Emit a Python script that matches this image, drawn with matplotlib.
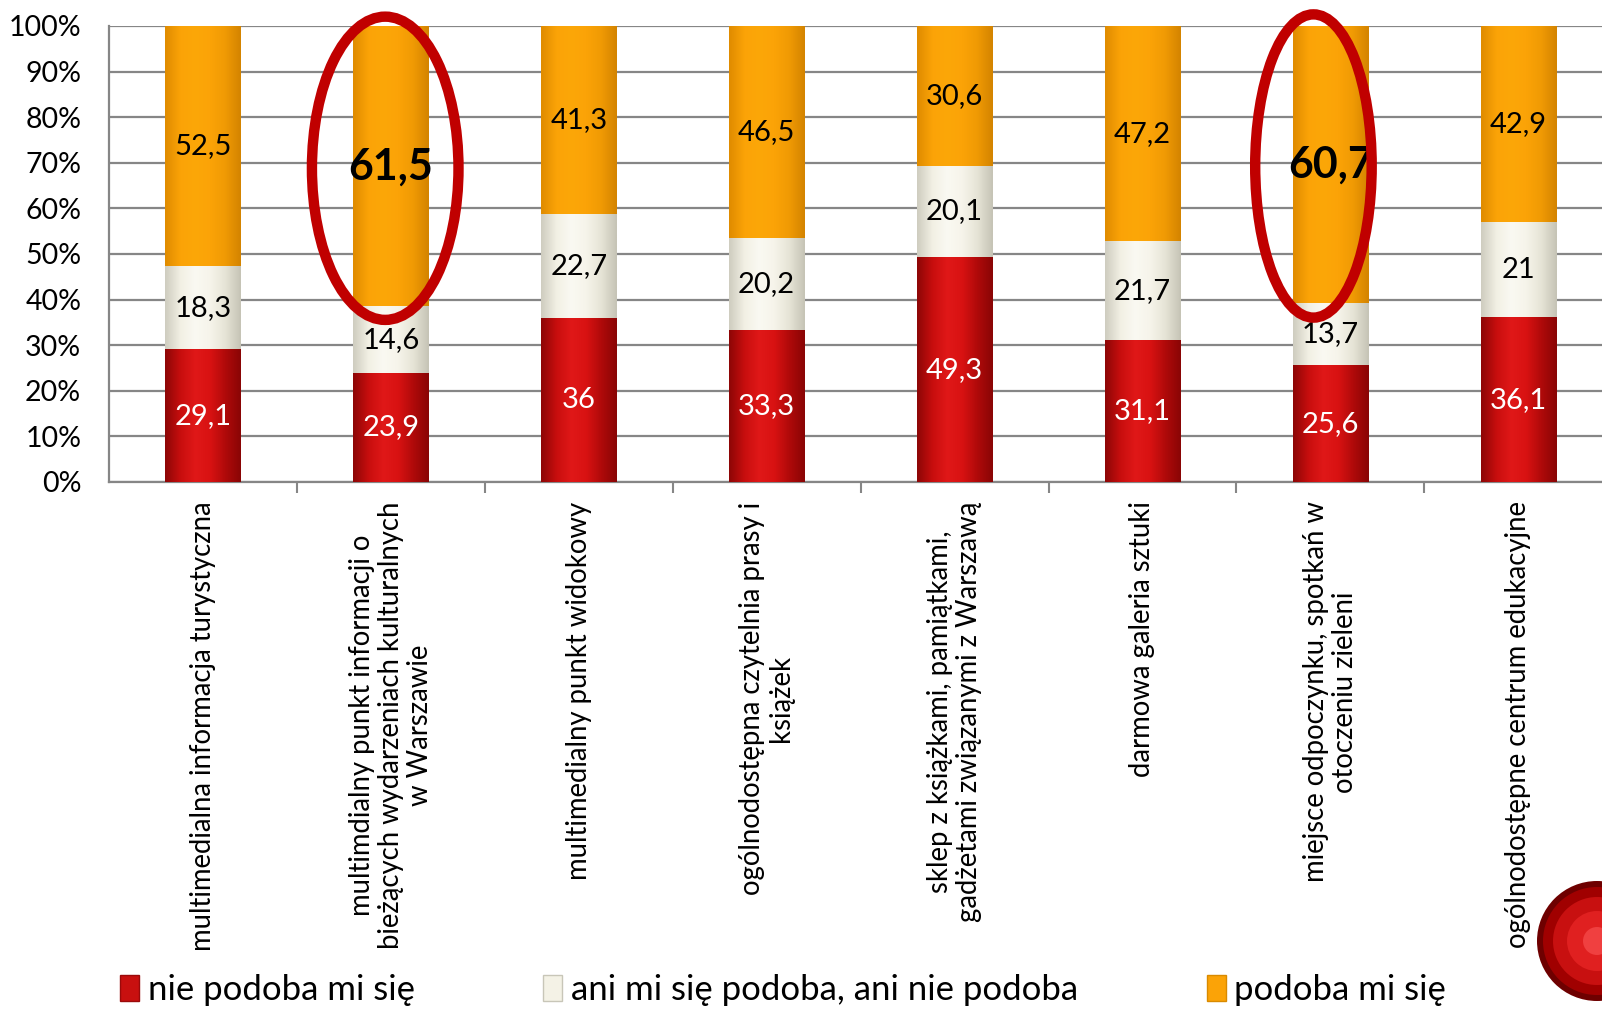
import matplotlib
matplotlib.use("Agg")
import matplotlib.pyplot as plt
from matplotlib.patches import Ellipse, Patch
from matplotlib.colors import LinearSegmentedColormap
import numpy as np

plt.rcParams['font.family'] = ['Lato', 'DejaVu Sans']

categories = [
    "multimedialna informacja turystyczna",
    "multimdialny punkt informacji o\nbieżących wydarzeniach kulturalnych\nw Warszawie",
    "multimedialny punkt widokowy",
    "ogólnodostępna czytelnia prasy i\nksiążek",
    "sklep z książkami, pamiątkami,\ngadżetami związanymi z Warszawą",
    "darmowa galeria sztuki",
    "miejsce odpoczynku, spotkań w\notoczeniu zieleni",
    "ogólnodostępne centrum edukacyjne",
]
nie_podoba = [29.1, 23.9, 36, 33.3, 49.3, 31.1, 25.6, 36.1]
ani = [18.3, 14.6, 22.7, 20.2, 20.1, 21.7, 13.7, 21]
podoba = [52.5, 61.5, 41.3, 46.5, 30.6, 47.2, 60.7, 42.9]
series_names = ["nie podoba mi się", "ani mi się podoba, ani nie podoba", "podoba mi się"]
highlight = [1, 6]
ytick_vals = [0, 10, 20, 30, 40, 50, 60, 70, 80, 90, 100]

def fmt(v):
    return ("%g" % v).replace(".", ",")

W, H = 1602, 1013
fig = plt.figure(figsize=(W / 100, H / 100), dpi=100)
left_px, right_px = 109, 1602
top_px, bottom_px = 26, 482
ax = fig.add_axes([left_px / W, 1 - bottom_px / H, (right_px - left_px) / W, (bottom_px - top_px) / H])

x = np.arange(len(categories))
cat_px = 187.9
xmax = (right_px - left_px) / cat_px - 0.5
ax.set_xlim(-0.5, xmax)
ax.set_ylim(0, 100)

red, cream, orange = "#C8100F", "#F4F2E6", "#FBA307"
bw = 0.40
b1 = ax.bar(x, nie_podoba, bw, color=red, zorder=3, linewidth=0)
b2 = ax.bar(x, ani, bw, bottom=nie_podoba, color=cream, zorder=3, linewidth=0)
bottom3 = np.array(nie_podoba) + np.array(ani)
b3 = ax.bar(x, podoba, bw, bottom=bottom3, color=orange, zorder=3, linewidth=0)

# glossy horizontal gradient overlay on each bar segment
grad_maps = [
    LinearSegmentedColormap.from_list("r", ["#8E0606", "#C80E0E", "#E01818", "#D81212", "#B00A0A", "#8A0505"]),
    LinearSegmentedColormap.from_list("c", ["#CFCDC0", "#F2F0E4", "#FAF9F2", "#F6F4EA", "#E6E4D6", "#C6C4B6"]),
    LinearSegmentedColormap.from_list("o", ["#E08C00", "#FBA307", "#FCA708", "#FBA307", "#F09A04", "#D48400"]),
]
gvals = np.linspace(0, 1, 64).reshape(1, -1)
for cont, cmap in zip([b1, b2, b3], grad_maps):
    for rect in cont:
        x0, y0 = rect.get_x(), rect.get_y()
        ax.imshow(gvals, cmap=cmap, aspect="auto", interpolation="bilinear",
                  extent=[x0, x0 + rect.get_width(), y0, y0 + rect.get_height()], zorder=3.5)
ax.set_xlim(-0.5, xmax)
ax.set_ylim(0, 100)

for i in range(len(categories)):
    ax.text(x[i], nie_podoba[i] / 2, fmt(nie_podoba[i]), ha="center", va="center",
            color="white", fontsize=21, zorder=5)
    ax.text(x[i], nie_podoba[i] + ani[i] / 2, fmt(ani[i]), ha="center", va="center",
            color="black", fontsize=21, zorder=5)
    if i in highlight:
        ax.text(x[i], bottom3[i] + podoba[i] / 2, fmt(podoba[i]), ha="center", va="center",
                color="black", fontsize=31, fontweight="bold", zorder=5)
    else:
        ax.text(x[i], bottom3[i] + podoba[i] / 2, fmt(podoba[i]), ha="center", va="center",
                color="black", fontsize=21, zorder=5)

# highlight ellipses
ax.add_patch(Ellipse((1 - 0.03, 68.8), 0.78, 66.5, fill=False, edgecolor="#C00000",
                     linewidth=7.5, zorder=6, clip_on=False))
ax.add_patch(Ellipse((6 - 0.09, 69.3), 0.62, 66.5, fill=False, edgecolor="#C00000",
                     linewidth=7.5, zorder=6, clip_on=False))

ax.set_yticks(ytick_vals)
ax.set_yticklabels(["%d%%" % v for v in ytick_vals], fontsize=20.5)
ax.yaxis.grid(True, color="#868686", linewidth=1.6, zorder=0)
ax.tick_params(axis="y", length=0, pad=20)
ax.set_xticks(x)
ax.set_xticklabels(categories, rotation=90, fontsize=19.8, ha="center", va="top",
                   multialignment="center", linespacing=1.15)
ax.tick_params(axis="x", length=0, pad=14)
ax.set_xticks(np.arange(-0.5, xmax, 1.0)[1:], minor=True)
ax.tick_params(axis="x", which="minor", length=8, color="#868686", width=1.5)
for s in ["top", "right"]:
    ax.spines[s].set_visible(False)
ax.spines["left"].set_color("#868686")
ax.spines["left"].set_linewidth(1.6)
ax.spines["bottom"].set_color("#868686")
ax.spines["bottom"].set_linewidth(1.6)

handles = [Patch(facecolor=red, edgecolor="#9A0A0A"),
           Patch(facecolor=cream, edgecolor="#C8C6B8"),
           Patch(facecolor=orange, edgecolor="#D98A00")]
fig.legend(handles, series_names, loc="center left", bbox_to_anchor=(106 / W, 1 - 990 / H),
           ncol=3, frameon=False, fontsize=25, handlelength=0.55, handleheight=0.75,
           handletextpad=0.25, columnspacing=3.7, borderaxespad=0)

# logo fragment (red sphere) at bottom right
for r, c in [(60, "#6E0000"), (54, "#A00000"), (44, "#C81010"), (30, "#E02020"), (14, "#F04040")]:
    fig.patches.append(Ellipse((1597 / W, 1 - 941 / H), 2 * r / W, 2 * r / H,
                               transform=fig.transFigure, facecolor=c, edgecolor="none"))

fig.savefig("out.png", dpi=100)
